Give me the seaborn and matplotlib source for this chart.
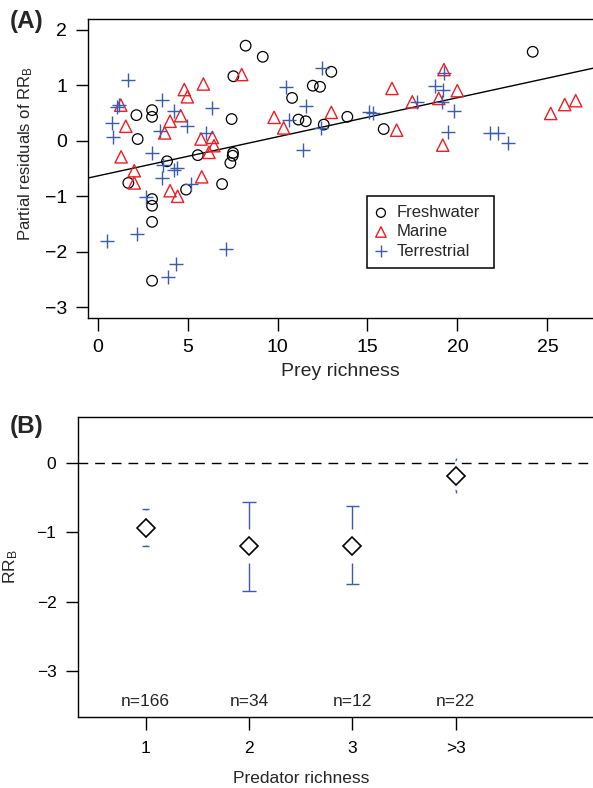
import numpy as np
import pandas as pd
import matplotlib
matplotlib.use("Agg")
import matplotlib.pyplot as plt
import seaborn as sns

# ---- panel A data: partial residuals vs prey richness ----
fresh_x = [8.23, 9.18, 7.55, 3.03, 3.03, 2.16, 7.45, 2.23, 3.86, 5.57, 7.53, 7.51, 7.38,
           1.71, 3.03, 3.03, 4.92, 6.92, 3.03, 3.03, 12.99, 11.96, 12.36, 10.81, 11.16,
           11.57, 12.57, 13.88, 15.90, 24.18]
fresh_y = [1.71, 1.51, 1.16, 0.55, 0.43, 0.46, 0.39, 0.03, -0.37, -0.26, -0.22, -0.27, -0.40,
           -0.76, -1.05, -1.17, -0.88, -0.78, -1.46, -2.52, 1.24, 0.99, 0.97, 0.77, 0.38,
           0.35, 0.29, 0.43, 0.21, 1.60]
marine_x = [8.01, 5.88, 4.82, 4.99, 1.29, 1.57, 4.03, 4.62, 3.73, 5.75, 6.38, 6.47, 6.19,
            1.31, 2.04, 2.04, 5.79, 4.03, 4.45, 16.36, 9.81, 10.34, 12.99, 16.62, 17.49,
            19.25, 19.99, 18.96, 25.18, 25.96, 26.57, 19.18]
marine_y = [1.19, 1.02, 0.92, 0.79, 0.64, 0.26, 0.35, 0.45, 0.14, 0.03, 0.06, -0.09, -0.21,
            -0.29, -0.54, -0.76, -0.65, -0.90, -1.00, 0.94, 0.42, 0.23, 0.51, 0.19, 0.70,
            1.28, 0.90, 0.76, 0.49, 0.65, 0.72, -0.08]
terr_x = [1.71, 3.56, 1.19, 1.10, 4.27, 6.34, 0.79, 4.99, 3.47, 6.01, 0.88, 3.03, 3.66,
          4.27, 4.42, 3.60, 5.19, 2.69, 0.51, 2.18, 7.14, 4.34, 3.93, 12.47, 10.47, 11.58,
          10.66, 12.40, 15.10, 15.29, 11.40, 17.73, 19.25, 18.75, 19.18, 19.12, 19.81,
          19.49, 21.81, 22.27, 22.82]
terr_y = [1.10, 0.74, 0.64, 0.61, 0.54, 0.58, 0.32, 0.27, 0.17, 0.14, 0.06, -0.23, -0.43,
          -0.53, -0.49, -0.67, -0.77, -1.02, -1.80, -1.67, -1.94, -2.21, -2.46, 1.30, 0.96,
          0.62, 0.38, 0.23, 0.52, 0.49, -0.17, 0.70, 1.21, 0.98, 0.91, 0.70, 0.53,
          0.16, 0.14, 0.14, -0.04]
fit_intercept = -0.634
fit_slope = 0.0704

# ---- panel B data: RR_B by predator richness ----
pred_cats = ["1", "2", "3", ">3"]
pred_mean = [-0.935, -1.20, -1.20, -0.187]
pred_lo = [-1.20, -1.84, -1.75, -0.39]
pred_hi = [-0.66, -0.56, -0.63, 0.04]
pred_n = [166, 34, 12, 22]

sns.set_theme(style="ticks")
plt.rcParams["font.family"] = ["Liberation Sans", "DejaVu Sans"]
plt.rcParams["mathtext.fontset"] = "custom"
plt.rcParams["mathtext.rm"] = "Liberation Sans"
plt.rcParams["mathtext.it"] = "Liberation Sans:italic"
plt.rcParams["font.size"] = 12.5

red = "#ee1c25"
blue = "#3b5bab"

W, H = 593, 788
fig = plt.figure(figsize=(W / 100, H / 100), dpi=100)
axA = fig.add_axes([88 / W, 1 - 318 / H, (593 - 88) / W, (318 - 19) / H])
axB = fig.add_axes([78 / W, 1 - 716.7 / H, (593 - 78) / W, 300 / H])

# panel A
df_f = pd.DataFrame({"x": fresh_x, "y": fresh_y})
df_m = pd.DataFrame({"x": marine_x, "y": marine_y})
df_t = pd.DataFrame({"x": terr_x, "y": terr_y})
sns.scatterplot(data=df_f, x="x", y="y", marker="o", s=58, color="black",
                facecolor="none", edgecolor="black", linewidth=0.9, ax=axA,
                label="Freshwater", zorder=3)
sns.scatterplot(data=df_m, x="x", y="y", marker="^", s=78, color=red,
                facecolor="none", edgecolor=red, linewidth=1.0, ax=axA,
                label="Marine", zorder=3)
sns.scatterplot(data=df_t, x="x", y="y", marker="+", s=115, color=blue,
                linewidth=1.0, ax=axA, label="Terrestrial", zorder=3)
axA.axline((0, fit_intercept), slope=fit_slope, color="black", lw=1.0, zorder=2)

axA.set_xlim(-0.53, 27.53)
axA.set_ylim(-3.19, 2.19)
axA.set_xticks([0, 5, 10, 15, 20, 25])
axA.set_yticks([-3, -2, -1, 0, 1, 2])
axA.set_yticklabels(["\u22123", "\u22122", "\u22121", "0", "1", "2"])
axA.set_xlabel("Prey richness", fontsize=14, labelpad=5)
axA.set_ylabel("Partial residuals of RR$_\\mathrm{B}$", fontsize=12)
axA.yaxis.set_label_coords(-0.105, 0.55)
leg = axA.legend(loc="upper left", bbox_to_anchor=(0.552, 0.108, 0.251, 0.3),
                 mode="expand", frameon=True, fontsize=12, markerscale=0.85,
                 fancybox=False, edgecolor="black", framealpha=1, borderpad=0.55,
                 handletextpad=0.63, labelspacing=0.25, handlelength=0.6,
                 borderaxespad=0)
leg.get_frame().set_linewidth(1.1)
axA.text(-0.121, 0.99, "(A)", transform=axA.transAxes, fontsize=17.5,
         fontweight="bold", ha="center", va="center")

# panel B
sns.pointplot(x=pred_cats, y=pred_mean, linestyle="none", marker="D",
              color="black", markerfacecolor="white", markersize=9,
              markeredgewidth=1.2, errorbar=None, ax=axB, zorder=3)
bar_gap = 0.25
cap_half = [0.032, 0.065, 0.065, 0.008]
pos = np.arange(len(pred_cats))
m = np.array(pred_mean)
axB.vlines(pos, m + bar_gap, pred_hi, color=blue, lw=1.0)
axB.vlines(pos, m - bar_gap, pred_lo, color=blue, lw=1.0)
ch = np.array(cap_half)
axB.hlines(pred_hi, pos - ch, pos + ch, color=blue, lw=1.0)
axB.hlines(pred_lo, pos - ch, pos + ch, color=blue, lw=1.0)
axB.axhline(0, color="black", lw=1.0, ls=(0, (7, 5)), zorder=1)
for p, n in zip(pos, pred_n):
    axB.text(p, -3.44, f"n={n}", ha="center", va="center", fontsize=12.5)

axB.set_xlim(-0.655, 4.33)
axB.set_ylim(-3.655, 0.662)
axB.set_yticks([-3, -2, -1, 0])
axB.set_yticklabels(["\u22123", "\u22122", "\u22121", "0"])
axB.set_xlabel("Predator richness", fontsize=12.5)
axB.xaxis.set_label_coords(0.4326, -0.18)
axB.set_ylabel("RR$_\\mathrm{B}$", fontsize=12.5)
axB.yaxis.set_label_coords(-0.112, 0.5)
axB.text(-0.099, 0.969, "(B)", transform=axB.transAxes, fontsize=17.5,
         fontweight="bold", ha="center", va="center")

for ax in (axA, axB):
    for s in ["top", "left", "bottom"]:
        ax.spines[s].set_visible(True)
        ax.spines[s].set_color("black")
        ax.spines[s].set_linewidth(1.0)
    ax.spines["right"].set_visible(False)
    ax.grid(False)

axA.tick_params(direction="out", length=9, width=1.0, pad=6, color="black",
                labelcolor="black", labelsize=14)
axB.tick_params(direction="out", length=9, width=1.0, pad=6.5, color="black",
                labelcolor="black", labelsize=12.5)
axB.tick_params(axis="x", pad=8.5)

fig.savefig("out.png", dpi=100)
